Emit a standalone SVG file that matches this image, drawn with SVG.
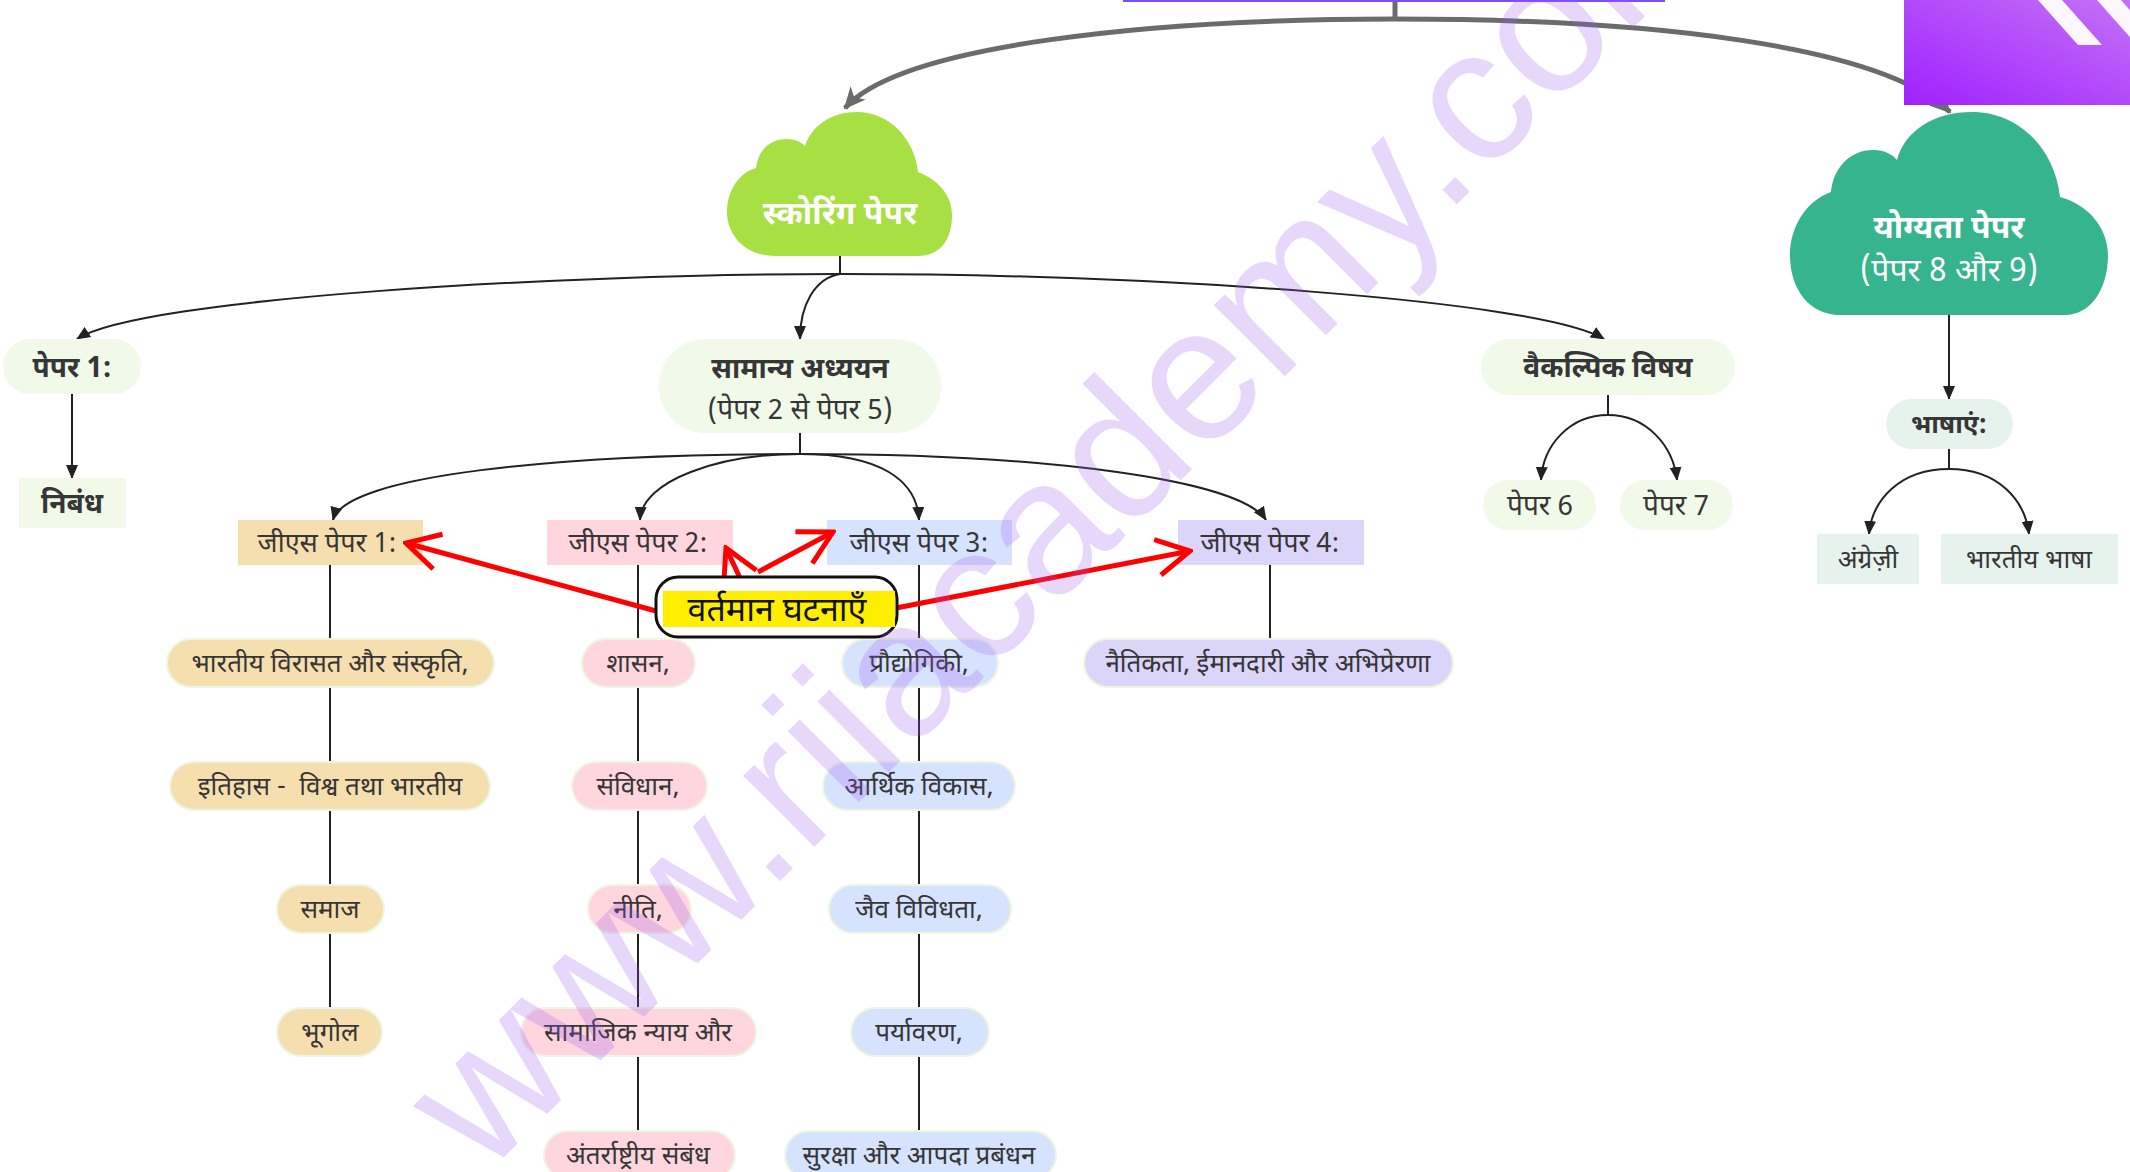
<svg xmlns="http://www.w3.org/2000/svg" width="2130" height="1172" viewBox="0 0 2130 1172">
<defs>
<style>
text{font-family:"Noto Sans Devanagari","Noto Sans","Liberation Sans",sans-serif;text-anchor:middle;fill:#363636}
.hdr{font-size:28px;font-weight:bold}
.gs{font-size:27px}
.it{font-size:26px}
.cl{font-size:32px;font-weight:bold;fill:#ffffff}
.pg{fill:#f1f9e9}
.pm{fill:#e6f2ec}
.c1{fill:#f6dfae;stroke:#ecf6e2;stroke-width:2}
.c2{fill:#ffd6de;stroke:#ecf6e2;stroke-width:2}
.c3{fill:#d5e3ff;stroke:#ecf6e2;stroke-width:2}
.c4{fill:#dcd5fa;stroke:#ecf6e2;stroke-width:2}
.ln{fill:none;stroke:#222;stroke-width:2}
.gr{fill:none;stroke:#6b6b6b;stroke-width:5}
.rd{fill:none;stroke:#ff0000;stroke-width:5}
</style>
<marker id="ab" markerUnits="userSpaceOnUse" markerWidth="14" markerHeight="14" viewBox="0 0 14 14" refX="13" refY="7" orient="auto"><path d="M0,1 L14,7 L0,13 z" fill="#222"/></marker>
<marker id="ag" markerUnits="userSpaceOnUse" markerWidth="22" markerHeight="20" viewBox="0 0 22 20" refX="20" refY="10" orient="auto"><path d="M0,0 L22,10 L0,20 L6,10 z" fill="#6b6b6b"/></marker>
<marker id="ar" markerUnits="userSpaceOnUse" markerWidth="40" markerHeight="44" viewBox="0 0 40 44" refX="37" refY="22" orient="auto"><path d="M4,4 L37,22 L4,40" fill="none" stroke="#ff0000" stroke-width="5"/></marker>
<linearGradient id="pg" x1="0" y1="1" x2="1" y2="0"><stop offset="0" stop-color="#a020ff"/><stop offset="1" stop-color="#c472f6"/></linearGradient>
<clipPath id="pc"><rect x="1904" y="0" width="226" height="105"/></clipPath>
</defs>

<rect width="2130" height="1172" fill="#ffffff"/>

<g id="connectors">
<path class="gr" d="M1395 0 V19"/>
<path class="gr" d="M1395 19 C1150 19 900 45 845 108" marker-end="url(#ag)"/>
<path class="gr" d="M1395 19 C1650 19 1880 45 1950 112" marker-end="url(#ag)"/>
<path class="ln" d="M840 256 V274"/>
<path class="ln" d="M840 274 C560 274 140 298 77 339" marker-end="url(#ab)"/>
<path class="ln" d="M840 274 C815 278 800 305 800 339" marker-end="url(#ab)"/>
<path class="ln" d="M840 274 C1150 274 1540 300 1604 339" marker-end="url(#ab)"/>
<path class="ln" d="M72 394 V478" marker-end="url(#ab)"/>
<path class="ln" d="M800 433 V454"/>
<path class="ln" d="M800 454 C560 454 345 475 333 520" marker-end="url(#ab)"/>
<path class="ln" d="M800 454 C720 454 642 480 640 520" marker-end="url(#ab)"/>
<path class="ln" d="M800 454 C880 454 917 480 919 520" marker-end="url(#ab)"/>
<path class="ln" d="M800 454 C1050 454 1240 480 1266 520" marker-end="url(#ab)"/>
<path class="ln" d="M1608 395 V415"/>
<path class="ln" d="M1608 415 C1570 415 1543 445 1541 480" marker-end="url(#ab)"/>
<path class="ln" d="M1608 415 C1646 415 1673 445 1677 480" marker-end="url(#ab)"/>
<path class="ln" d="M1949 315 V399" marker-end="url(#ab)"/>
<path class="ln" d="M1949 449 V469"/>
<path class="ln" d="M1949 469 C1900 469 1872 500 1869 534" marker-end="url(#ab)"/>
<path class="ln" d="M1949 469 C1998 469 2025 500 2029 534" marker-end="url(#ab)"/>
<path class="ln" d="M330 565 V639 M330 687 V762 M330 810 V885 M330 933 V1008"/>
<path class="ln" d="M638 565 V639 M638 687 V762 M638 810 V885 M638 933 V1008 M638 1056 V1131"/>
<path class="ln" d="M919 565 V639 M919 687 V762 M919 810 V885 M919 933 V1008 M919 1056 V1131"/>
<path class="ln" d="M1270 565 V639"/>
</g>

<rect x="1123" y="0" width="542" height="2" fill="#7c4dff"/>

<g id="n-scoring">
<path d="M775 256 C745 256 727 235 727 212 C727 190 740 172 756 168 C758 150 770 139 787 139 C795 139 801 142 805 146 C812 125 832 112 857 112 C890 112 915 140 918 172 C938 180 952 195 952 215 C952 240 940 256 918 256 Z" fill="#a8e043"/>
<text class="cl" x="840" y="224">स्कोरिंग पेपर</text>
</g>
<g id="n-yogyata">
<path d="M1840 315 C1810 315 1790 290 1790 255 C1790 225 1808 200 1831 192 C1833 168 1850 150 1873 150 C1885 150 1893 155 1897 160 C1905 130 1935 112 1972 112 C2020 112 2055 150 2060 197 C2090 205 2108 230 2108 255 C2108 290 2090 315 2065 315 Z" fill="#36b48e"/>
<text class="cl" x="1949" y="238">योग्यता पेपर</text>
<text class="cl" x="1949" y="281" style="font-weight:normal">(पेपर 8 और 9)</text>
</g>

<g id="n-paper1"><rect class="pg" x="3" y="339" width="138" height="55" rx="27"/><text class="hdr" x="72" y="377">पेपर 1:</text></g>
<g id="n-nibandh"><rect class="pg" x="19" y="478" width="107" height="50"/><text class="hdr" x="72" y="513">निबंध</text></g>
<g id="n-samanya"><rect class="pg" x="659" y="339" width="282" height="94" rx="46"/><text class="hdr" x="800" y="378">सामान्य अध्ययन</text><text class="hdr" x="800" y="419" style="font-weight:normal">(पेपर 2 से पेपर 5)</text></g>
<g id="n-vaikalpik"><rect class="pg" x="1481" y="339" width="254" height="56" rx="28"/><text class="hdr" x="1608" y="377">वैकल्पिक विषय</text></g>
<g id="n-paper6"><rect class="pg" x="1483" y="480" width="113" height="50" rx="25"/><text class="hdr" x="1540" y="515" style="font-weight:normal">पेपर 6</text></g>
<g id="n-paper7"><rect class="pg" x="1620" y="480" width="113" height="50" rx="25"/><text class="hdr" x="1676" y="515" style="font-weight:normal">पेपर 7</text></g>
<g id="n-bhashayen"><rect class="pm" x="1886" y="399" width="127" height="50" rx="25"/><text class="hdr" x="1949" y="433" style="font-size:26px">भाषाएं:</text></g>
<g id="n-angrezi"><rect class="pm" x="1817" y="534" width="102" height="50"/><text class="it" x="1868" y="568">अंग्रेज़ी</text></g>
<g id="n-bhartiya-bhasha"><rect class="pm" x="1941" y="534" width="177" height="50"/><text class="it" x="2029" y="568">भारतीय भाषा</text></g>

<g id="n-gs1"><rect x="238" y="520" width="185" height="45" fill="#f6dfae"/><text class="gs" x="327" y="552">जीएस पेपर 1:</text></g>
<g id="n-gs2"><rect x="547" y="520" width="186" height="45" fill="#ffd6de"/><text class="gs" x="638" y="552">जीएस पेपर 2:</text></g>
<g id="n-gs3"><rect x="827" y="520" width="185" height="45" fill="#d5e3ff"/><text class="gs" x="919" y="552">जीएस पेपर 3:</text></g>
<g id="n-gs4"><rect x="1178" y="520" width="186" height="45" fill="#dcd5fa"/><text class="gs" x="1270" y="552">जीएस पेपर 4:</text></g>

<g id="n-gs1-1"><rect class="c1" x="167" y="639" width="327" height="48" rx="24"/><text class="it" x="330" y="672">भारतीय विरासत और संस्कृति,</text></g>
<g id="n-gs1-2"><rect class="c1" x="170" y="762" width="320" height="48" rx="24"/><text class="it" x="330" y="795" xml:space="preserve">इतिहास -  विश्व तथा भारतीय</text></g>
<g id="n-gs1-3"><rect class="c1" x="277" y="885" width="107" height="48" rx="24"/><text class="it" x="330" y="918">समाज</text></g>
<g id="n-gs1-4"><rect class="c1" x="277" y="1008" width="105" height="48" rx="24"/><text class="it" x="330" y="1041">भूगोल</text></g>

<g id="n-gs2-1"><rect class="c2" x="582" y="639" width="113" height="48" rx="24"/><text class="it" x="638" y="672">शासन,</text></g>
<g id="n-gs2-2"><rect class="c2" x="572" y="762" width="135" height="48" rx="24"/><text class="it" x="638" y="795">संविधान,</text></g>
<g id="n-gs2-3"><rect class="c2" x="588" y="885" width="103" height="48" rx="24"/><text class="it" x="638" y="918">नीति,</text></g>
<g id="n-gs2-4"><rect class="c2" x="521" y="1008" width="235" height="48" rx="24"/><text class="it" x="638" y="1041">सामाजिक न्याय और</text></g>
<g id="n-gs2-5"><rect class="c2" x="544" y="1131" width="191" height="48" rx="24"/><text class="it" x="638" y="1164">अंतर्राष्ट्रीय संबंध</text></g>

<g id="n-gs3-1"><rect class="c3" x="842" y="639" width="156" height="48" rx="24"/><text class="it" x="919" y="672">प्रौद्योगिकी,</text></g>
<g id="n-gs3-2"><rect class="c3" x="823" y="762" width="192" height="48" rx="24"/><text class="it" x="919" y="795">आर्थिक विकास,</text></g>
<g id="n-gs3-3"><rect class="c3" x="829" y="885" width="182" height="48" rx="24"/><text class="it" x="919" y="918">जैव विविधता,</text></g>
<g id="n-gs3-4"><rect class="c3" x="851" y="1008" width="138" height="48" rx="24"/><text class="it" x="919" y="1041">पर्यावरण,</text></g>
<g id="n-gs3-5"><rect class="c3" x="785" y="1131" width="271" height="48" rx="24"/><text class="it" x="919" y="1164">सुरक्षा और आपदा प्रबंधन</text></g>

<g id="n-gs4-1"><rect class="c4" x="1084" y="639" width="369" height="48" rx="24"/><text class="it" x="1268" y="672">नैतिकता, ईमानदारी और अभिप्रेरणा</text></g>

<g id="callout-arrows">
<path class="rd" d="M656 611 L406 543" marker-end="url(#ar)"/>
<path class="rd" d="M740 578 L726 548" marker-end="url(#ar)"/>
<path class="rd" d="M758 572 L833 532" marker-end="url(#ar)"/>
<path class="rd" d="M896 608 L1190 551" marker-end="url(#ar)"/>
</g>
<g id="n-current">
<rect x="656" y="577" width="241" height="60" rx="22" fill="#ffffff" stroke="#111" stroke-width="3"/>
<rect x="663" y="591" width="232" height="36" fill="#ffee00"/>
<text x="777" y="621" style="font-size:34px;fill:#111">वर्तमान घटनाएँ</text>
</g>

<g id="logo" clip-path="url(#pc)">
<rect x="1904" y="0" width="226" height="105" fill="url(#pg)"/>
<polygon points="2038,0 2062,0 2102,45 2078,45" fill="#ffffff" opacity="0.95"/>
<polygon points="2097,0 2121,0 2161,45 2137,45" fill="#ffffff" opacity="0.95"/>
</g>

<text x="484" y="1177" transform="rotate(-45 484 1177)" style="font-family:'Liberation Sans',sans-serif;font-size:190px;text-anchor:start;fill:#a05af0;opacity:0.24">www.riiacademy.com</text>
</svg>
